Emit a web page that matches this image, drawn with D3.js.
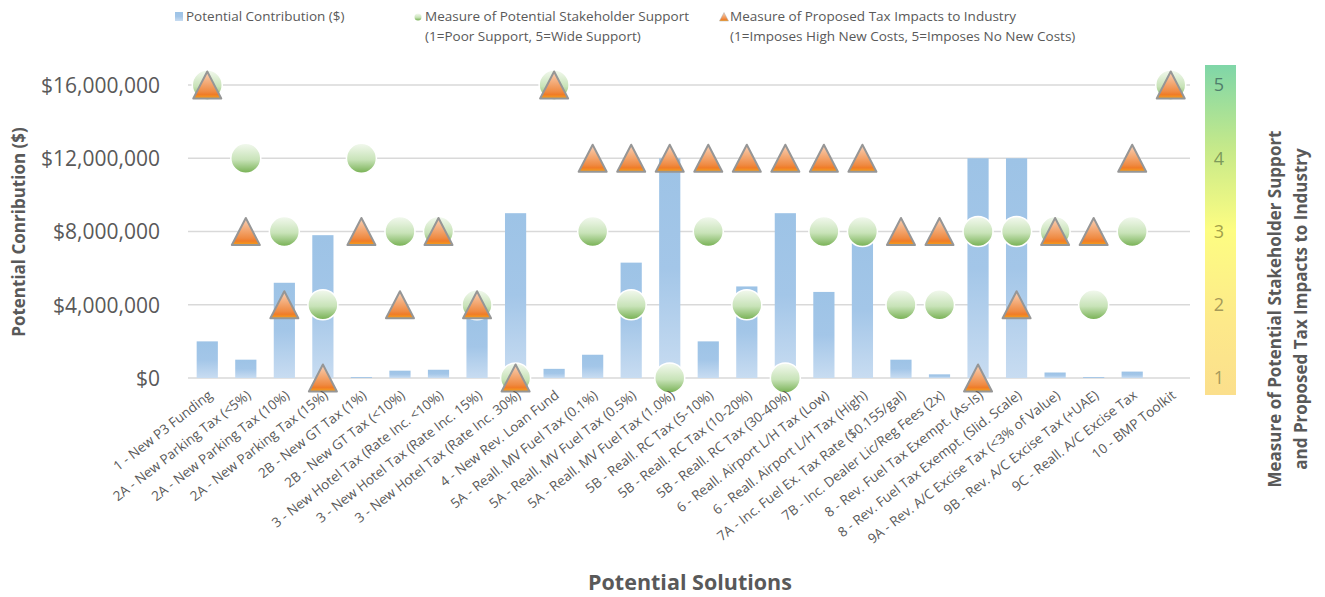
<!DOCTYPE html>
<html>
<head>
<meta charset="utf-8">
<script src="https://cdn.jsdelivr.net/npm/d3@7"></script>
<style>
  body { margin: 0; background: #fff; }
  svg text { font-family: "Open Sans", "Noto Sans", sans-serif; fill: #595959; }
</style>
</head>
<body>
<div id="chart"></div>
<script>
(function(d3) {
  'use strict';

  // categories along the x axis
  var solutions = [
    '1 - New P3 Funding',
    '2A - New Parking Tax (<5%)',
    '2A - New Parking Tax (10%)',
    '2A - New Parking Tax (15%)',
    '2B - New GT Tax (1%)',
    '2B - New GT Tax (<10%)',
    '3 - New Hotel Tax (Rate Inc. <10%)',
    '3 - New Hotel Tax (Rate Inc. 15%)',
    '3 - New Hotel Tax (Rate Inc. 30%)',
    '4 - New Rev. Loan Fund',
    '5A - Reall. MV Fuel Tax (0.1%)',
    '5A - Reall. MV Fuel Tax (0.5%)',
    '5A - Reall. MV Fuel Tax (1.0%)',
    '5B - Reall. RC Tax (5-10%)',
    '5B - Reall. RC Tax (10-20%)',
    '5B - Reall. RC Tax (30-40%)',
    '6 - Reall. Airport L/H Tax (Low)',
    '6 - Reall. Airport L/H Tax (High)',
    '7A - Inc. Fuel Ex. Tax Rate ($0.155/gal)',
    '7B - Inc. Dealer Lic/Reg Fees (2x)',
    '8 - Rev. Fuel Tax Exempt. (As-Is)',
    '8 - Rev. Fuel Tax Exempt. (Slid. Scale)',
    '9A - Rev. A/C Excise Tax (<3% of Value)',
    '9B - Rev. A/C Excise Tax (+UAE)',
    '9C - Reall. A/C Excise Tax',
    '10 - BMP Toolkit'
  ];
  // potential contribution ($)
  var contribution = [2000000, 1000000, 5200000, 7800000, 50000, 400000, 450000, 3400000, 9000000, 500000,
    1270000, 6300000, 12000000, 2000000, 5000000, 9000000, 4700000, 7400000, 1000000, 200000,
    12000000, 12000000, 300000, 50000, 350000, 0];
  // stakeholder support (1-5)
  var support = [5, 4, 3, 2, 4, 3, 3, 2, 1, 5, 3, 2, 1, 3, 2, 1, 3, 3, 2, 2, 3, 3, 3, 2, 3, 5];
  // tax impacts to industry (1-5)
  var impacts = [5, 3, 2, 1, 3, 2, 3, 2, 1, 5, 4, 4, 4, 4, 4, 4, 4, 4, 3, 3, 1, 2, 3, 3, 4, 5];
  var leftTicks = [0, 4000000, 8000000, 12000000, 16000000];
  var rightTicks = [1, 2, 3, 4, 5];

  var width = 1325, height = 597;
  var left = 188, right = 1190, top = 85, bottom = 378;

  var svg = d3.select('#chart').append('svg')
    .attr('width', width)
    .attr('height', height);

  var defs = svg.append('defs');
  function grad(id, stops) {
    var g = defs.append('linearGradient').attr('id', id)
      .attr('x1', 0).attr('y1', 0).attr('x2', 0).attr('y2', 1);
    stops.forEach(function(s) {
      g.append('stop').attr('offset', s[0]).attr('stop-color', s[1]);
    });
  }
  grad('barGrad', [[0, '#9dc3e6'], [0.5, '#a3c6e8'], [1, '#c8dcf1']]);
  grad('dotGrad', [[0, '#f3f9ef'], [0.55, '#c8e3b8'], [1, '#76b052']]);
  grad('triGrad', [[0, '#f9d2b8'], [0.75, '#ef8a42'], [0.85, '#f07c28'], [1, '#f5a31a']]);
  grad('scaleGrad', [[0, '#7fd6a8'], [0.25, '#c5e98a'], [0.5, '#fdfd82'], [0.78, '#fde98a'], [1, '#fbdf8c']]);

  var x = d3.scaleBand().domain(solutions).range([left, right]).paddingInner(0.45).paddingOuter(0.225);
  var y = d3.scaleLinear().domain([0, 16000000]).range([bottom, top]);
  var y2 = d3.scaleLinear().domain([1, 5]).range([bottom, top]);

  // grid lines
  svg.append('g').selectAll('line')
    .data(leftTicks)
    .enter().append('line')
    .attr('x1', left).attr('x2', right)
    .attr('y1', function(d) { return y(d); })
    .attr('y2', function(d) { return y(d); })
    .attr('stroke', '#d9d9d9')
    .attr('stroke-width', 1.5);

  // left axis labels
  var yAxis = svg.append('g')
    .attr('transform', 'translate(' + (left - 25) + ',0)')
    .call(d3.axisLeft(y).tickValues(leftTicks).tickFormat(d3.format('$,')).tickSize(0));
  yAxis.select('.domain').remove();
  yAxis.selectAll('text').style('font-size', '21px').attr('dy', '0.35em');

  // bars
  svg.append('g').selectAll('rect')
    .data(contribution)
    .enter().append('rect')
    .attr('x', function(d, i) { return x(solutions[i]); })
    .attr('width', x.bandwidth())
    .attr('y', function(d) { return y(d); })
    .attr('height', function(d) { return bottom - y(d); })
    .attr('fill', 'url(#barGrad)');

  // support circles
  svg.append('g').selectAll('circle')
    .data(support)
    .enter().append('circle')
    .attr('cx', function(d, i) { return x(solutions[i]) + x.bandwidth() / 2; })
    .attr('cy', function(d) { return y2(d); })
    .attr('r', 15)
    .attr('fill', 'url(#dotGrad)')
    .attr('stroke', '#fff')
    .attr('stroke-width', 1.5);

  // impact triangles
  var tri = 'M0,-13.5L14,13.5L-14,13.5Z';
  svg.append('g').selectAll('path')
    .data(impacts)
    .enter().append('path')
    .attr('d', tri)
    .attr('transform', function(d, i) {
      return 'translate(' + (x(solutions[i]) + x.bandwidth() / 2) + ',' + y2(d) + ')';
    })
    .attr('fill', 'url(#triGrad)')
    .attr('stroke', '#969696')
    .attr('stroke-width', 2)
    .attr('stroke-linejoin', 'round');

  // x labels
  svg.append('g').selectAll('text')
    .data(solutions)
    .enter().append('text')
    .attr('transform', function(d) {
      return 'translate(' + (x(d) + x.bandwidth() / 2 + 6) + ',' + (bottom + 19) + ') rotate(-38)';
    })
    .attr('text-anchor', 'end')
    .style('font-size', '13.5px')
    .text(function(d) { return d; });

  // right colour scale
  svg.append('rect')
    .attr('x', 1205).attr('y', 65)
    .attr('width', 31).attr('height', 330)
    .attr('fill', 'url(#scaleGrad)');
  var scaleCol = { 1: '#a69a5c', 2: '#a69a58', 3: '#a3a24a', 4: '#7d9a5a', 5: '#4f7e6c' };
  svg.append('g').selectAll('text')
    .data(rightTicks)
    .enter().append('text')
    .attr('x', 1219)
    .attr('y', function(d) { return y2(d); })
    .attr('dy', '0.35em')
    .attr('text-anchor', 'middle')
    .style('font-size', '18px')
    .style('fill', function(d) { return scaleCol[d]; })
    .text(function(d) { return d; });

  // axis titles
  svg.append('text')
    .attr('transform', 'translate(25,232) rotate(-90)')
    .attr('text-anchor', 'middle')
    .style('font-size', '17px').style('font-weight', 'bold')
    .text('Potential Conribution  ($)');
  svg.append('text')
    .attr('transform', 'translate(1281,309) rotate(-90)')
    .attr('text-anchor', 'middle')
    .style('font-size', '17px').style('font-weight', 'bold')
    .text('Measure of Potential Stakeholder Support');
  svg.append('text')
    .attr('transform', 'translate(1307,309) rotate(-90)')
    .attr('text-anchor', 'middle')
    .style('font-size', '17px').style('font-weight', 'bold')
    .text('and Proposed Tax Impacts to Industry');
  svg.append('text')
    .attr('x', 690).attr('y', 590)
    .attr('text-anchor', 'middle')
    .style('font-size', '21.5px').style('font-weight', 'bold')
    .text('Potential Solutions');

  // legend
  var lg = svg.append('g').style('font-size', '13.5px');
  lg.append('rect').attr('x', 175).attr('y', 12).attr('width', 8).attr('height', 9).attr('fill', 'url(#barGrad)');
  lg.append('text').attr('x', 186).attr('y', 21).text('Potential Contribution ($)');
  lg.append('circle').attr('cx', 418).attr('cy', 17).attr('r', 3.5).attr('fill', 'url(#dotGrad)');
  lg.append('text').attr('x', 425).attr('y', 21).text('Measure of Potential Stakeholder Support');
  lg.append('text').attr('x', 425).attr('y', 41).text('(1=Poor Support, 5=Wide Support)');
  lg.append('path').attr('d', 'M0,-4.5L4.5,4L-4.5,4Z').attr('transform', 'translate(724,17)')
    .attr('fill', 'url(#triGrad)').attr('stroke', '#aaa').attr('stroke-width', 0.5);
  lg.append('text').attr('x', 730).attr('y', 21).text('Measure of Proposed Tax Impacts to Industry');
  lg.append('text').attr('x', 730).attr('y', 41).text('(1=Imposes High New Costs, 5=Imposes No New Costs)');
})(window.d3);
</script>
</body>
</html>
